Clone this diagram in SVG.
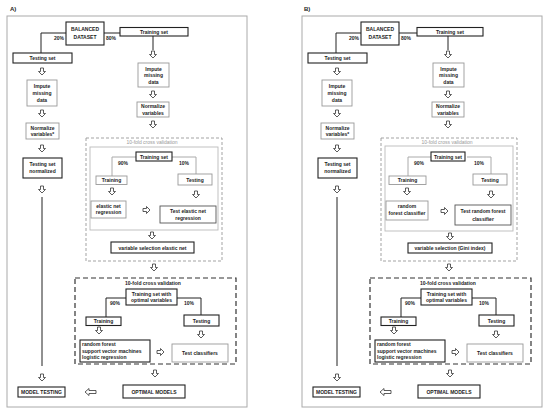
<svg xmlns="http://www.w3.org/2000/svg" xmlns:xlink="http://www.w3.org/1999/xlink" width="550" height="415" viewBox="0 0 550 415">
<style>
.frame{fill:none;stroke:#aaa;stroke-width:1}
.bd{fill:#fff;stroke:#222;stroke-width:1.1}
.bm{fill:#fff;stroke:#555;stroke-width:0.9}
.bl{fill:#fff;stroke:#999;stroke-width:0.9}
.dg{fill:none;stroke:#999;stroke-width:0.9;stroke-dasharray:3 2}
.dd{fill:none;stroke:#333;stroke-width:1.2;stroke-dasharray:5 3}
.ib{fill:none;stroke:#bbb;stroke-width:0.9}
.t{font-family:"Liberation Sans",Arial,sans-serif;font-size:5px;font-weight:bold;fill:#222;text-anchor:middle}
.tl{font-family:"Liberation Sans",Arial,sans-serif;font-size:5px;font-weight:bold;fill:#222;text-anchor:start}
.tg{font-family:"Liberation Sans",Arial,sans-serif;font-size:5px;fill:#999;text-anchor:middle}
.tt{font-family:"Liberation Sans",Arial,sans-serif;font-size:6px;font-weight:bold;fill:#222}
.c{fill:none;stroke:#222;stroke-width:1}
.cg{fill:none;stroke:#aaa;stroke-width:1}
.ar{fill:#fff;stroke:#333;stroke-width:0.8}
</style>
<defs>
<path id="dn" class="ar" d="M-1.5,0 H1.5 V3.5 H3.5 L0,7 L-3.5,3.5 H-1.5 Z"/>
<path id="rt" class="ar" d="M0,-1.5 H3.5 V-3.5 L7,0 L3.5,3.5 V1.5 H0 Z"/>
<path id="lt" class="ar" d="M0,0 L4,-3.5 V-1.5 H11 V1.5 H4 V3.5 Z"/>
</defs>
<rect width="550" height="415" fill="#fff"/>

<!-- PANEL A -->
<g id="panelA">
<text class="tt" x="10" y="11">A)</text>
<rect class="frame" x="7" y="16" width="240" height="391"/>
<g id="A-connectors">
<polyline class="c" points="66,33 41,33 41,53"/>
<line class="c" x1="104" y1="33" x2="120" y2="33"/>
<line class="c" x1="153" y1="36" x2="153" y2="50"/>
<line class="c" x1="42" y1="197" x2="42" y2="366"/>
<polyline class="cg" points="136,157 112,157 112,176"/>
<polyline class="cg" points="172,157 196,157 196,174"/>
<polyline class="c" points="126,298 106,298 106,317"/>
<polyline class="c" points="177,298 201,298 201,315"/>
<use href="#dn" x="153" y="51"/>
<use href="#dn" x="153" y="91"/>
<use href="#dn" x="153" y="121"/>
<use href="#dn" x="42" y="68"/>
<use href="#dn" x="42" y="110"/>
<use href="#dn" x="42" y="145"/>
<use href="#dn" x="42" y="186"/>
<use href="#dn" x="42" y="374"/>
<use href="#dn" x="112" y="188"/>
<use href="#dn" x="196" y="191"/>
<use href="#rt" x="143" y="210"/>
<use href="#dn" x="152" y="232"/>
<use href="#dn" x="154" y="264"/>
<use href="#dn" x="99" y="327"/>
<use href="#dn" x="201" y="331"/>
<use href="#rt" x="157" y="352"/>
<use href="#dn" x="155" y="370"/>
<use href="#lt" x="85" y="392"/>
</g>
<text class="t" x="59" y="40">20%</text>
<text class="t" x="111" y="40">80%</text>
<g id="A-balanced"><rect class="bd" x="66" y="22" width="38" height="23"/><text class="t" x="85" y="31">BALANCED</text><text class="t" x="85" y="39">DATASET</text></g>
<g id="A-trainset"><rect class="bd" x="120" y="27.5" width="68" height="8.5"/><text class="t" x="154" y="33.7">Training set</text></g>
<g id="A-testset"><rect class="bd" x="13" y="53" width="59" height="10"/><text class="t" x="42.5" y="59.8">Testing set</text></g>
<g id="A-impute-r"><rect class="bl" x="138" y="63" width="31" height="24"/><text class="t" x="153.5" y="70.5">Impute</text><text class="t" x="153.5" y="77.3">missing</text><text class="t" x="153.5" y="84">data</text></g>
<g id="A-norm-r"><rect class="bl" x="137" y="102" width="32" height="15"/><text class="t" x="153" y="108">Normalize</text><text class="t" x="153" y="114.5">variables</text></g>
<g id="A-impute-l"><rect class="bl" x="27" y="80" width="30" height="26"/><text class="t" x="42" y="87.5">Impute</text><text class="t" x="42" y="94.5">missing</text><text class="t" x="42" y="101.8">data</text></g>
<g id="A-norm-l"><rect class="bl" x="26" y="123" width="33" height="16"/><text class="t" x="42.5" y="129.5">Normalize</text><text class="t" x="42.5" y="136">variables*</text></g>
<g id="A-testnorm"><rect class="bd" x="23" y="158" width="39" height="20"/><text class="t" x="42.5" y="166">Testing set</text><text class="t" x="42.5" y="173">normalized</text></g>
<g id="A-modeltest"><rect class="bd" x="18" y="387" width="47" height="10"/><text class="t" x="41.5" y="393.8">MODEL TESTING</text></g>
<g id="A-optimal"><rect class="bd" x="123" y="385" width="62" height="13"/><text class="t" x="154" y="393.5">OPTIMAL MODELS</text></g>
<g id="A-cv1">
<rect class="dg" x="86" y="138" width="136" height="123"/>
<text class="tg" x="152" y="144">10-fold cross validation</text>
<rect class="ib" x="90" y="147" width="128" height="83"/>
</g>
<g id="A-cv1-trainset"><rect class="bd" x="136" y="152" width="36" height="9"/><text class="t" x="154" y="158.5">Training set</text></g>
<text class="t" x="123" y="164.5">90%</text>
<text class="t" x="184" y="164.5">10%</text>
<g id="A-cv1-training"><rect class="bl" x="96" y="176" width="31" height="8.5"/><text class="t" x="111.5" y="182">Training</text></g>
<g id="A-cv1-testing"><rect class="bl" x="178" y="174" width="34" height="11"/><text class="t" x="195" y="181.5">Testing</text></g>
<g id="A-enet"><rect class="bl" x="91" y="201" width="35" height="17"/><text class="t" x="108.5" y="207.5">elastic net</text><text class="t" x="108.5" y="214">regression</text></g>
<g id="A-testenet"><rect class="bm" x="160" y="206" width="56" height="17"/><text class="t" x="188" y="212.8">Test elastic net</text><text class="t" x="188" y="219.5">regression</text></g>
<g id="A-varsel"><rect class="bd" x="111" y="242" width="83" height="11"/><text class="t" x="152.5" y="249.5">variable selection elastic net</text></g>
<g id="A-cv2">
<rect class="dd" x="75" y="278" width="161" height="86"/>
<text class="t" x="153" y="284.8">10-fold cross validation</text>
</g>
<g id="A-cv2-trainset"><rect class="bd" x="126" y="289" width="51" height="16"/><text class="t" x="151.5" y="295.5">Training set with</text><text class="t" x="151.5" y="302.3">optimal variables</text></g>
<text class="t" x="115" y="304.5">90%</text>
<text class="t" x="189" y="304.5">10%</text>
<g id="A-cv2-training"><rect class="bd" x="86" y="317" width="35" height="8.5"/><text class="t" x="103.5" y="323">Training</text></g>
<g id="A-cv2-testing"><rect class="bd" x="184" y="315" width="35" height="11"/><text class="t" x="201.5" y="322.5">Testing</text></g>
<g id="A-classifiers"><rect class="bd" x="80" y="340" width="70" height="22"/><text class="tl" x="82" y="346">random forest</text><text class="tl" x="82" y="352.5">support vector machines</text><text class="tl" x="82" y="359">logistic regression</text></g>
<g id="A-testclass"><rect class="bl" x="172" y="344" width="56" height="18"/><text class="t" x="200" y="354.8">Test classifiers</text></g>
</g>

<!-- PANEL B -->
<g id="panelB" transform="translate(295,0)">
<text class="tt" x="9" y="11">B)</text>
<rect class="frame" x="7" y="16" width="240" height="391"/>
<g id="B-connectors">
<polyline class="c" points="66,33 41,33 41,53"/>
<line class="c" x1="104" y1="33" x2="122" y2="33"/>
<line class="c" x1="153" y1="36" x2="153" y2="50"/>
<line class="c" x1="42" y1="197" x2="42" y2="366"/>
<polyline class="cg" points="136,157 113,157 113,176"/>
<polyline class="cg" points="172,157 196,157 196,174"/>
<polyline class="c" points="126,298 106,298 106,317"/>
<polyline class="c" points="177,298 201,298 201,315"/>
<use href="#dn" x="153" y="51"/>
<use href="#dn" x="153" y="91"/>
<use href="#dn" x="153" y="121"/>
<use href="#dn" x="42" y="68"/>
<use href="#dn" x="42" y="110"/>
<use href="#dn" x="42" y="145"/>
<use href="#dn" x="42" y="186"/>
<use href="#dn" x="42" y="374"/>
<use href="#dn" x="112" y="188"/>
<use href="#dn" x="196" y="191"/>
<use href="#rt" x="146" y="211"/>
<use href="#dn" x="155" y="233"/>
<use href="#dn" x="154" y="264"/>
<use href="#dn" x="99" y="327"/>
<use href="#dn" x="201" y="331"/>
<use href="#rt" x="157" y="352"/>
<use href="#dn" x="155" y="370"/>
<use href="#lt" x="85" y="392"/>
</g>
<text class="t" x="59" y="40">20%</text>
<text class="t" x="111" y="40">80%</text>
<g id="B-balanced"><rect class="bd" x="66" y="22" width="38" height="23"/><text class="t" x="85" y="31">BALANCED</text><text class="t" x="85" y="39">DATASET</text></g>
<g id="B-trainset"><rect class="bd" x="122" y="27.5" width="66" height="8.5"/><text class="t" x="155" y="33.7">Training set</text></g>
<g id="B-testset"><rect class="bd" x="13" y="53" width="59" height="10"/><text class="t" x="42.5" y="59.8">Testing set</text></g>
<g id="B-impute-r"><rect class="bl" x="138" y="63" width="31" height="24"/><text class="t" x="153.5" y="70.5">Impute</text><text class="t" x="153.5" y="77.3">missing</text><text class="t" x="153.5" y="84">data</text></g>
<g id="B-norm-r"><rect class="bl" x="137" y="102" width="32" height="15"/><text class="t" x="153" y="108">Normalize</text><text class="t" x="153" y="114.5">variables</text></g>
<g id="B-impute-l"><rect class="bl" x="27" y="80" width="30" height="26"/><text class="t" x="42" y="87.5">Impute</text><text class="t" x="42" y="94.5">missing</text><text class="t" x="42" y="101.8">data</text></g>
<g id="B-norm-l"><rect class="bl" x="26" y="123" width="33" height="16"/><text class="t" x="42.5" y="129.5">Normalize</text><text class="t" x="42.5" y="136">variables*</text></g>
<g id="B-testnorm"><rect class="bd" x="23" y="158" width="39" height="20"/><text class="t" x="42.5" y="166">Testing set</text><text class="t" x="42.5" y="173">normalized</text></g>
<g id="B-modeltest"><rect class="bd" x="18" y="387" width="47" height="10"/><text class="t" x="41.5" y="393.8">MODEL TESTING</text></g>
<g id="B-optimal"><rect class="bd" x="123" y="385" width="62" height="13"/><text class="t" x="154" y="393.5">OPTIMAL MODELS</text></g>
<g id="B-cv1">
<rect class="dg" x="86" y="138" width="136" height="123"/>
<text class="tg" x="152" y="144">10-fold cross validation</text>
<rect class="ib" x="90" y="146" width="128" height="85"/>
</g>
<g id="B-cv1-trainset"><rect class="bd" x="136" y="152" width="34" height="9"/><text class="t" x="153" y="158.5">Training set</text></g>
<text class="t" x="124" y="164.5">90%</text>
<text class="t" x="184" y="164.5">10%</text>
<g id="B-cv1-training"><rect class="bl" x="94" y="176" width="37" height="8.5"/><text class="t" x="112.5" y="182">Training</text></g>
<g id="B-cv1-testing"><rect class="bl" x="178" y="174" width="34" height="11"/><text class="t" x="195" y="181.5">Testing</text></g>
<g id="B-rfc"><rect class="bl" x="91" y="201" width="42" height="19"/><text class="t" x="112" y="208">random</text><text class="t" x="112" y="215">forest classifier</text></g>
<g id="B-testrfc"><rect class="bm" x="160" y="205" width="56" height="20"/><text class="t" x="188" y="212.5">Test random forest</text><text class="t" x="188" y="220.5">classifier</text></g>
<g id="B-varsel"><rect class="bd" x="113" y="243" width="84" height="10"/><text class="t" x="155" y="249.8">variable selection (Gini index)</text></g>
<g id="B-cv2">
<rect class="dd" x="75" y="278" width="161" height="86"/>
<text class="t" x="153" y="284.8">10-fold cross validation</text>
</g>
<g id="B-cv2-trainset"><rect class="bd" x="126" y="289" width="51" height="16"/><text class="t" x="151.5" y="295.5">Training set with</text><text class="t" x="151.5" y="302.3">optimal variables</text></g>
<text class="t" x="115" y="304.5">90%</text>
<text class="t" x="189" y="304.5">10%</text>
<g id="B-cv2-training"><rect class="bd" x="86" y="317" width="35" height="8.5"/><text class="t" x="103.5" y="323">Training</text></g>
<g id="B-cv2-testing"><rect class="bd" x="184" y="315" width="35" height="11"/><text class="t" x="201.5" y="322.5">Testing</text></g>
<g id="B-classifiers"><rect class="bd" x="80" y="340" width="70" height="22"/><text class="tl" x="82" y="346">random forest</text><text class="tl" x="82" y="352.5">support vector machines</text><text class="tl" x="82" y="359">logistic regression</text></g>
<g id="B-testclass"><rect class="bl" x="172" y="344" width="56" height="18"/><text class="t" x="200" y="354.8">Test classifiers</text></g>
</g>
</svg>
